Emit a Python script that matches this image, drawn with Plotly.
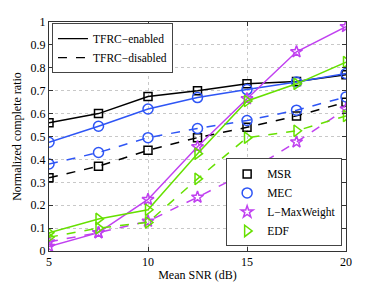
import plotly.graph_objects as go

snr = [5, 7.5, 10, 12.5, 15, 17.5, 20]

msr_on = [0.56, 0.60, 0.675, 0.70, 0.73, 0.74, 0.77]
mec_on = [0.475, 0.545, 0.62, 0.67, 0.705, 0.738, 0.775]
lmw_on = [0.02, 0.08, 0.225, 0.455, 0.665, 0.87, 0.98]
edf_on = [0.08, 0.14, 0.18, 0.425, 0.655, 0.73, 0.825]

msr_off = [0.32, 0.37, 0.44, 0.495, 0.54, 0.59, 0.65]
mec_off = [0.38, 0.43, 0.495, 0.535, 0.57, 0.615, 0.673]
lmw_off = [0.04, 0.08, 0.13, 0.235, 0.345, 0.476, 0.62]
edf_off = [0.06, 0.10, 0.125, 0.315, 0.495, 0.525, 0.59]

names = ["MSR", "MEC", "L\u2212MaxWeight", "EDF"]
colors = ["#000000", "#2e55f5", "#c040f0", "#66e000"]
symbols = ["square-open", "circle-open", "star-open", "triangle-right-open"]
sizes = [8, 10, 9, 10]
on_series = [msr_on, mec_on, lmw_on, edf_on]
off_series = [msr_off, mec_off, lmw_off, edf_off]

font = "Liberation Serif"
fig = go.Figure()

for i in range(4):
    for ys, dash in ((on_series[i], "solid"), (off_series[i], "dash")):
        fig.add_trace(go.Scatter(
            x=snr, y=ys, mode="lines+markers", showlegend=False,
            line=dict(color=colors[i], width=1.5, dash=dash),
            marker=dict(symbol=symbols[i], size=sizes[i], color=colors[i],
                        line=dict(width=1.5, color=colors[i])),
        ))

fig.add_trace(go.Scatter(x=[None], y=[None], mode="lines", name="TFRC\u2212enabled",
                         line=dict(color="black", width=1.2), legend="legend"))
fig.add_trace(go.Scatter(x=[None], y=[None], mode="lines", name="TFRC\u2212disabled",
                         line=dict(color="black", width=1.2, dash="dash"), legend="legend"))
for i in range(4):
    fig.add_trace(go.Scatter(x=[None], y=[None], mode="markers", name=names[i],
                             marker=dict(symbol=symbols[i], size=sizes[i], color=colors[i],
                                         line=dict(width=1.5, color=colors[i])),
                             legend="legend2"))

axis_common = dict(showline=True, mirror="allticks", linecolor="#333", linewidth=1,
                   ticks="inside", ticklen=4, tickcolor="#333", automargin=False,
                   showgrid=True, gridcolor="#c8c8c8", griddash="dot", gridwidth=1,
                   zeroline=False, tickfont=dict(family=font, size=12, color="black"))

fig.update_layout(
    width=374, height=275,
    margin=dict(l=41, r=36, t=14, b=32),
    paper_bgcolor="white", plot_bgcolor="white",
    font=dict(family=font, size=11, color="black"),
    xaxis=dict(range=[5, 20], tickvals=[5, 10, 15, 20],
               title=dict(text="Mean SNR (dB)", font=dict(family=font, size=12), standoff=2),
               **axis_common),
    yaxis=dict(range=[0, 1], tickvals=[i / 10 for i in range(11)],
               ticktext=["0"] + [f"0.{i}" for i in range(1, 10)] + ["1"],
               title=dict(text="Normalized complete ratio", font=dict(family=font, size=12), standoff=6),
               **axis_common),
    legend=dict(x=0.01, y=0.995, xanchor="left", yanchor="top",
                bgcolor="white", bordercolor="#444", borderwidth=1,
                font=dict(family=font, size=11.5), tracegroupgap=0, itemwidth=30),
    legend2=dict(x=0.987, y=0.02, xanchor="right", yanchor="bottom",
                 bgcolor="white", bordercolor="#444", borderwidth=1,
                 font=dict(family=font, size=11.5), tracegroupgap=0, itemwidth=30),
)

fig.write_html("out.html")
